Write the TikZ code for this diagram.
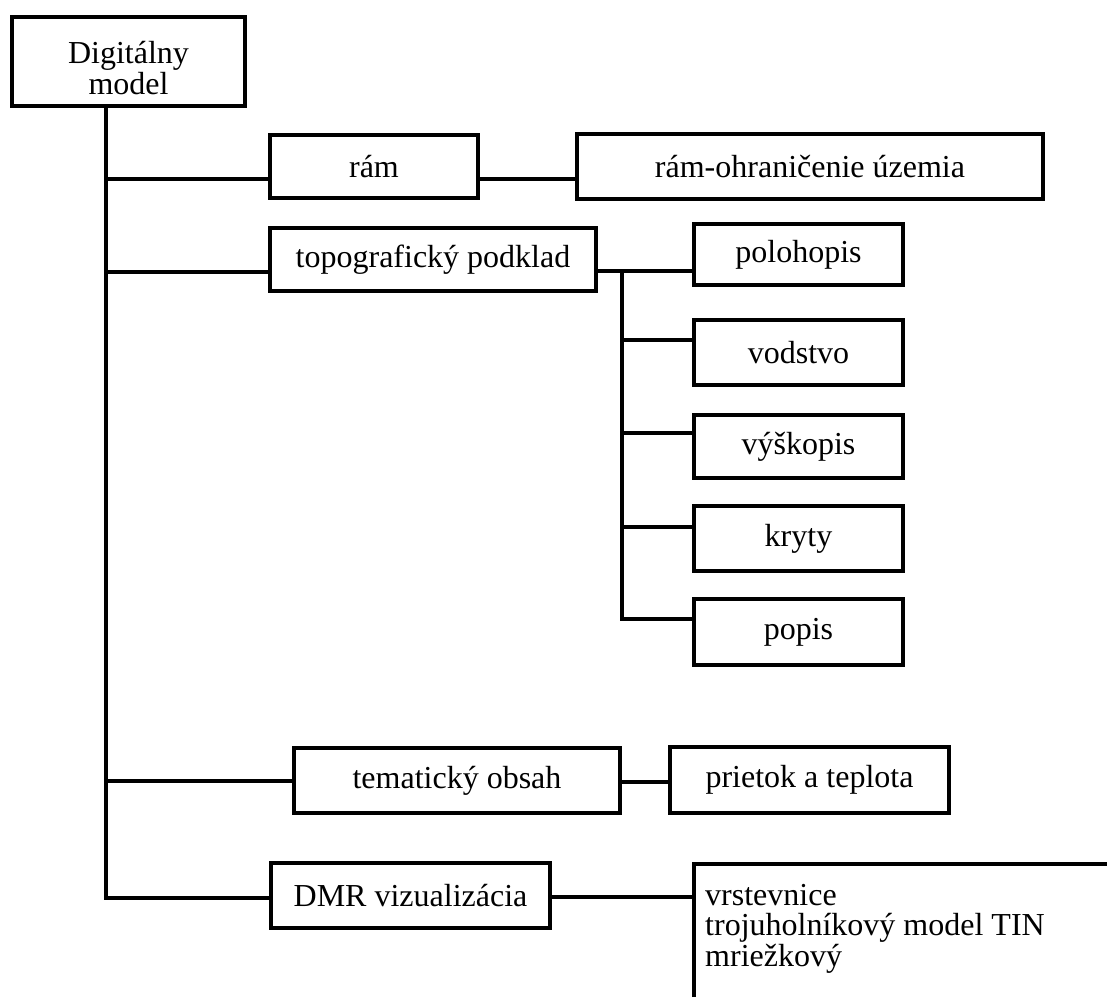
\documentclass[tikz,border=0pt]{standalone}
\usepackage{fontspec}
\setmainfont{Liberation Serif}
\begin{document}
\begin{tikzpicture}[x=1pt,y=-1pt,
  every node/.style={font=\fontsize{32}{31}\selectfont},
  box/.style={draw, line width=4.5pt, rectangle, inner sep=0pt, align=center},
  link/.style={line width=4.5pt, line cap=rect}
]
\useasboundingbox (0,0) rectangle (1107,997);

% boxes
\node[box, minimum width=233pt, minimum height=89pt] (dm)   at (128.5,61.5) {\rule{0pt}{36pt}Digitálny\\model};
\node[box, minimum width=208pt, minimum height=63pt] (ram)  at (374,166.5) {rám};
\node[box, minimum width=466pt, minimum height=65pt] (ramo) at (810,166.5) {rám-ohraničenie územia};
\node[box, minimum width=326pt, minimum height=63pt] (topo) at (433,259.5) {topografický podklad};
\node[box, minimum width=209pt, minimum height=61pt] (polo) at (798.5,254.5) {polohopis};
\node[box, minimum width=209pt, minimum height=65pt] (vod)  at (798.5,352.5) {vodstvo};
\node[box, minimum width=209pt, minimum height=63pt] (vys)  at (798.5,446.5) {výškopis};
\node[box, minimum width=209pt, minimum height=65pt] (kry)  at (798.5,538.5) {kryty};
\node[box, minimum width=209pt, minimum height=66pt] (pop)  at (798.5,632) {popis};
\node[box, minimum width=326pt, minimum height=65pt] (tem)  at (457,780.5) {tematický obsah};
\node[box, minimum width=279pt, minimum height=66pt] (prie) at (809.5,780) {prietok a teplota};
\node[box, minimum width=279pt, minimum height=65pt] (dmr)  at (410.5,895.5) {DMR vizualizácia};

% open frame holding the DMR variants
\coordinate (vzTop) at (694,864);
\draw[link, line cap=butt] (vzTop |- 0,997) -- (vzTop) -- (1107,864);
\node[anchor=base west, inner sep=0pt, align=left,
      font=\fontsize{32}{30.5}\selectfont] (vz) at (705,966)
  {vrstevnice\\trojuholníkový model TIN\\mriežkový};

% main trunk
\coordinate (jRam) at (106,179);
\coordinate (jTopo) at (106,272);
\coordinate (jTem) at (106,781);
\coordinate (jDmr) at (106,898);
\draw[link] (dm.south -| jRam) -- (jDmr);
\draw[link] (jRam) -- (jRam -| ram.west);
\draw[link] (jTopo) -- (jTopo -| topo.west);
\draw[link] (jTem) -- (jTem -| tem.west);
\draw[link] (jDmr) -- (jDmr -| dmr.west);

% second level
\coordinate (kRam) at (480,179);
\draw[link] (ram.east |- kRam) -- (ramo.west |- kRam);
\coordinate (kTem) at (622,782);
\draw[link] (tem.east |- kTem) -- (prie.west |- kTem);
\coordinate (kDmr) at (552,897);
\draw[link] (dmr.east |- kDmr) -- (vzTop |- kDmr);

% topography branch
\coordinate (sTop) at (622,271);
\coordinate (sVod) at (622,340);
\coordinate (sVys) at (622,433);
\coordinate (sKry) at (622,527);
\coordinate (sPop) at (622,619);
\draw[link] (topo.east |- sTop) -- (polo.west |- sTop);
\draw[link] (sTop) -- (sPop);
\draw[link] (sVod) -- (sVod -| vod.west);
\draw[link] (sVys) -- (sVys -| vys.west);
\draw[link] (sKry) -- (sKry -| kry.west);
\draw[link] (sPop) -- (sPop -| pop.west);
\end{tikzpicture}
\end{document}
